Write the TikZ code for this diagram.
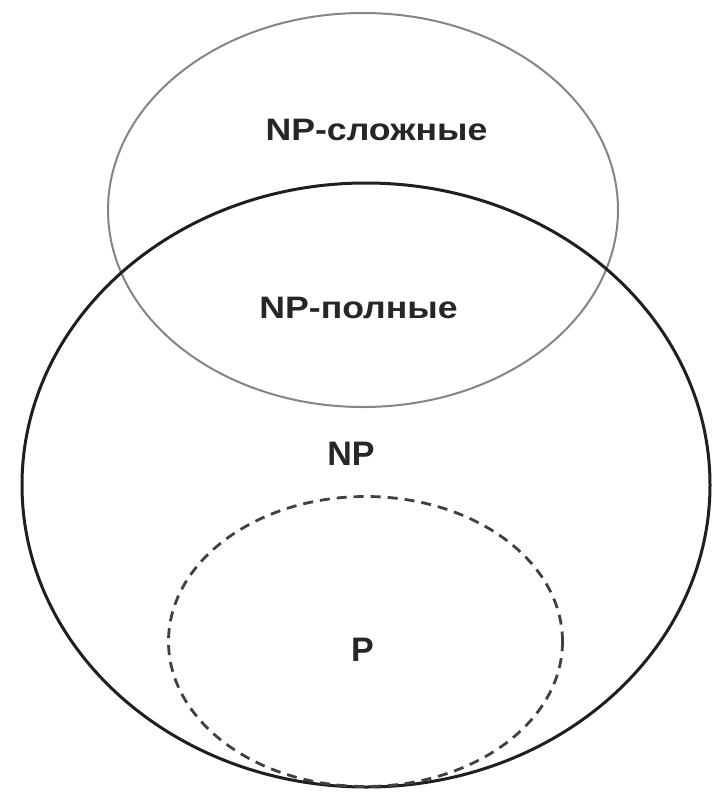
\documentclass[tikz,border=0pt]{standalone}
\usepackage{fontspec}
\setmainfont{Liberation Sans}
\newfontfamily\widebold[FakeStretch=1.15]{Liberation Sans Bold}
\newfontfamily\plainbold{Liberation Sans Bold}
\begin{document}
\begin{tikzpicture}[x=1pt,y=-1pt,
  hardset/.style={draw=black!48, line width=2pt},
  npset/.style={draw=black!88, line width=3pt},
  pset/.style={draw=black!75, line width=2.8pt, dash pattern=on 10pt off 7pt},
  longlabel/.style={inner sep=0pt, anchor=base, font=\widebold\fontsize{31}{36}\selectfont, text=black!85},
  shortlabel/.style={inner sep=0pt, anchor=base, font=\plainbold\fontsize{34}{40}\selectfont, text=black!85}]
\useasboundingbox (0,0) rectangle (725,793);
\fill[white] (0,0) rectangle (725,793);
% NP-hard problems
\draw[hardset] (363,210) ellipse [x radius=255pt, y radius=197pt];
% class NP
\draw[npset] (366,485) ellipse [x radius=344pt, y radius=302pt];
% class P
\draw[pset] (365.5,641.5) ellipse [x radius=197pt, y radius=145pt];
% labels
\node[longlabel] (hard) at (376.5,140) {NP-сложные};
\node[longlabel] (complete) at (358.5,318) {NP-полные};
\node[shortlabel] (np) at (351,465) {NP};
\node[shortlabel] (p) at (362.5,661) {P};
\end{tikzpicture}
\end{document}
